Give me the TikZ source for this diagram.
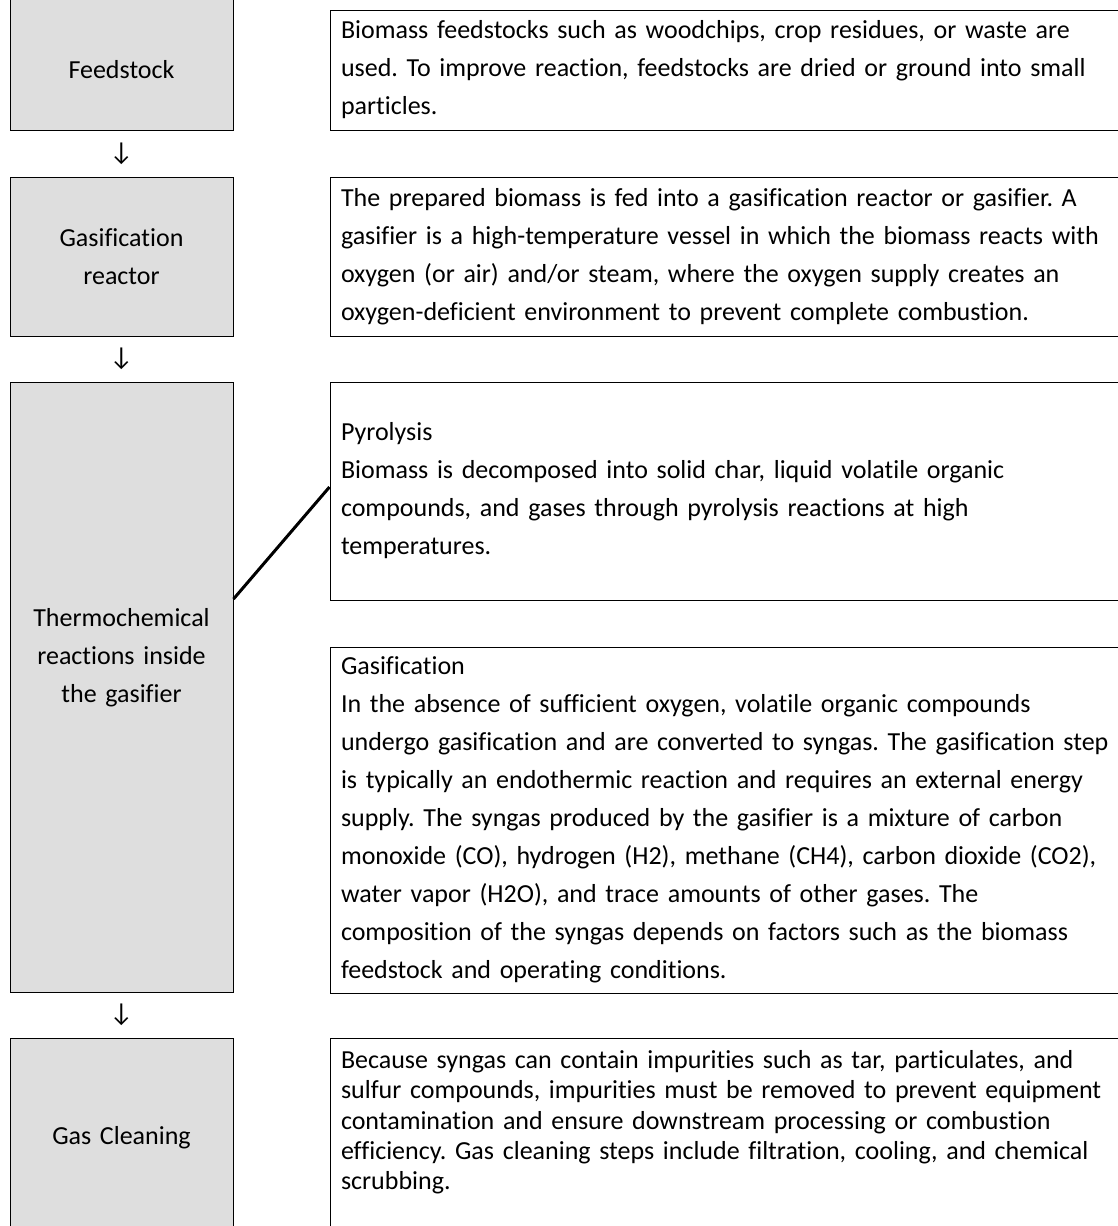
\documentclass[tikz,border=0pt]{standalone}
\usepackage{fontspec}
\setmainfont{Carlito}[Ligatures=CommonOff]
\newfontfamily\arrowfont{Carlito}
\usetikzlibrary{positioning}
\usetikzlibrary{calc}
\definecolor{boxgray}{RGB}{222,222,222}
\frenchspacing
\tikzset{node distance=45pt,
stagebox/.style={ % grey process step on the left
draw,
fill=boxgray,
line width=1pt,
minimum width=223pt,
text width=205pt,
inner sep=4pt,
align=center,
font=\fontsize{26pt}{38pt}\selectfont},
infobox/.style={ % white description box on the right
draw,
line width=1pt,
minimum width=802pt,
text width=880pt,
inner xsep=11pt,
align=left,
font=\fontsize{26pt}{38pt}\selectfont},
downarrow/.style={ % the arrow glyph between two steps
inner sep=0pt,
font=\arrowfont\fontsize{26pt}{26pt}\selectfont},
link/.style={line width=3pt}}

\begin{document}
\begin{tikzpicture}[x=1pt, y=-1pt]
\useasboundingbox (0,0) rectangle (1117,1226);

% process steps (the first one runs off the top edge)
\node[stagebox, minimum height=140pt] (feed) at (121.5,60) {\rule{0pt}{38pt}Feedstock};
\node[stagebox, minimum height=159pt, below=46pt of feed] (reactor) {Gasification\\reactor};
\node[stagebox, minimum height=610pt, below=of reactor] (thermo) {Thermochemical\\reactions inside\\the gasifier\rule[-64pt]{0pt}{0pt}};
\node[stagebox, minimum height=200pt, below=of thermo] (clean) {Gas Cleaning};

% descriptions
\node[infobox, minimum height=120pt, anchor=south west] (feed-info) at ([xshift=96pt]feed.south east) {Biomass feedstocks such as woodchips, crop residues, or waste are\\used. To improve reaction, feedstocks are dried or ground into small\\particles.};
\node[infobox, minimum height=159pt, right=96pt of reactor] (reactor-info) {The prepared biomass is fed into a gasification reactor or gasifier. A\\gasifier is a high-temperature vessel in which the biomass reacts with\\oxygen (or air) and/or steam, where the oxygen supply creates an\\oxygen-deficient environment to prevent complete combustion.};
\node[infobox, minimum height=218pt, anchor=north west] (pyro) at ([xshift=96pt]thermo.north east) {Pyrolysis\\Biomass is decomposed into solid char, liquid volatile organic\\compounds, and gases through pyrolysis reactions at high\\temperatures.};
\node[infobox, minimum height=346pt, below=46pt of pyro] (gasif) {Gasification\\In the absence of sufficient oxygen, volatile organic compounds\\undergo gasification and are converted to syngas. The gasification step\\is typically an endothermic reaction and requires an external energy\\supply. The syngas produced by the gasifier is a mixture of carbon\\monoxide (CO), hydrogen (H2), methane (CH4), carbon dioxide (CO2),\\water vapor (H2O), and trace amounts of other gases. The\\composition of the syngas depends on factors such as the biomass\\feedstock and operating conditions.};
\node[infobox, minimum height=200pt, right=96pt of clean, font=\fontsize{26pt}{30.3pt}\selectfont] (clean-info) {Because syngas can contain impurities such as tar, particulates, and\\sulfur compounds, impurities must be removed to prevent equipment\\contamination and ensure downstream processing or combustion\\efficiency. Gas cleaning steps include filtration, cooling, and chemical\\scrubbing.\rule[-36pt]{0pt}{0pt}};

% arrows between steps
\node[downarrow] (arr1) at ($(feed.south)!0.5!(reactor.north)$) {↓};
\node[downarrow] (arr2) at ($(reactor.south)!0.5!(thermo.north)$) {↓};
\node[downarrow] (arr3) at ($(thermo.south)!0.5!(clean.north)$) {↓};

\draw[link] ([yshift=88pt]thermo.east) -- ([yshift=4pt]pyro.west);
\end{tikzpicture}
\end{document}
